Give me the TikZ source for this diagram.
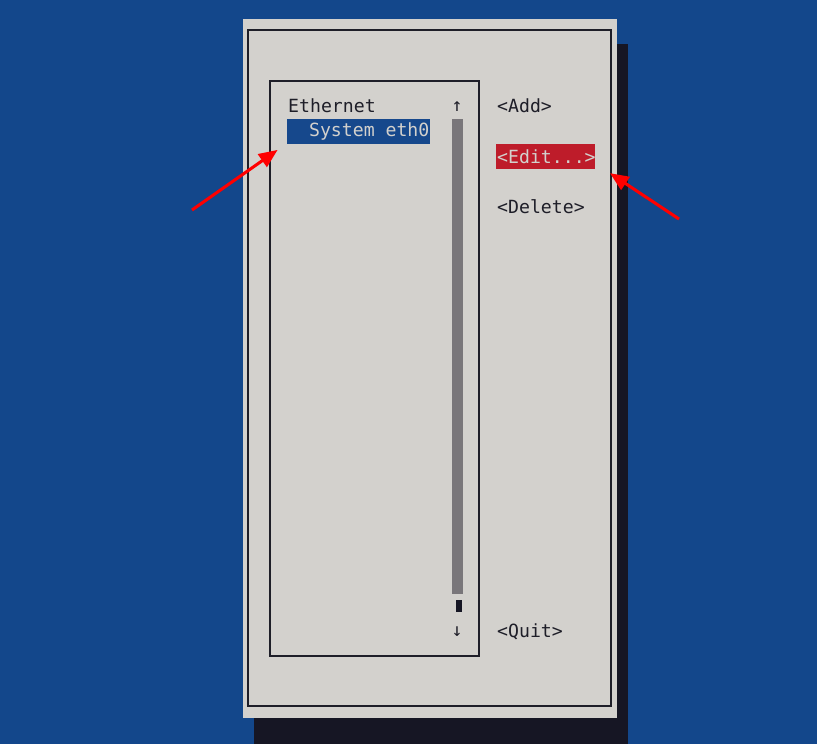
\documentclass[tikz,border=0pt]{standalone}
\usepackage{fontspec}
\setmonofont{DejaVu Sans Mono}
\usetikzlibrary{arrows.meta,positioning}
\definecolor{bgblue}{RGB}{19,71,139}
\definecolor{dlggray}{RGB}{211,209,205}
\definecolor{shadowC}{RGB}{22,22,36}
\definecolor{barC}{RGB}{121,118,122}
\definecolor{selC}{RGB}{22,72,140}
\definecolor{btnC}{RGB}{190,28,42}
\definecolor{txtC}{RGB}{30,30,40}
\tikzset{
    label/.style  = {font=\ttfamily\fontsize{15.5}{18}\selectfont, text=txtC,
            anchor=west, inner sep=0pt},
    frame/.style  = {draw=txtC, line width=1.6pt},
    pointer/.style = {-{Triangle[length=16pt,width=13pt]}, draw=red, fill=red,
            line width=2.6pt},
}
\begin{document}
\begin{tikzpicture}[x=0.03cm, y=-0.03cm]
    \useasboundingbox (0,0) rectangle (817,744);
    \fill[bgblue] (0,0) rectangle (817,744);
    % shadow and dialog
    \fill[shadowC] (254,44) rectangle (628,744);
    \fill[dlggray] (243,19) rectangle (617,718);
    \draw[frame] (248,30) rectangle (611,706);
    % list box
    \draw[frame] (270,81) rectangle (479,656);
    \node[label] (eth) at (288,106) {Ethernet};
    \fill[selC] (287,119) rectangle (430,144);
    \node[label, text=dlggray] (sel) at (287,131.5) {\ \ System eth0};
    % scrollbar
    \node[label, anchor=center] (up) at (457,107) {↑};
    \fill[barC] (452,119) rectangle (463,594);
    \fill[shadowC] (456,600) rectangle (462,612);
    \node[label, anchor=center] (down) at (457,632) {↓};
    % buttons
    \node[label] (add) at (497,106) {<Add>};
    \fill[btnC] (496,144) rectangle (595,169);
    \node[label, text=dlggray] (edit) at (497,156.5) {<Edit...>};
    \node[label] (del) at (497,207) {<Delete>};
    \node[label] (quit) at (497,632) {<Quit>};
    % pointers
    \coordinate (tailL) at (192,210);
    \coordinate (tailR) at (679,219);
    \draw[pointer] (tailL) -- ([xshift=-8pt,yshift=-8pt]sel.south west);
    \draw[pointer] (tailR) -- ([xshift=12pt,yshift=-8pt]edit.south east);
\end{tikzpicture}
\end{document}
